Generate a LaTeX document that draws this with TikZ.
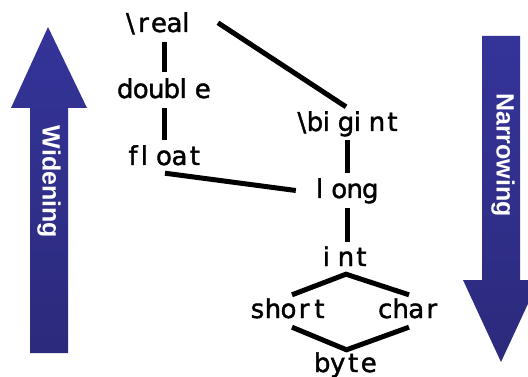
\documentclass[tikz,border=0pt]{standalone}
\usepackage{fontspec}
\setmainfont{DejaVu Sans}
\newfontfamily\typefont[FakeBold=1.5]{DejaVu Sans}
\newfontfamily\arrowfont{Liberation Sans}
\definecolor{arrowtop}{RGB}{52,52,153}
\definecolor{arrowbot}{RGB}{44,42,124}
\makeatletter
\def\mt@i{i}\def\mt@l{l}\def\mt@bs{\textbackslash}
\newcommand\mtext[1]{\@tfor\mt@c:=#1\do{%
  \ifx\mt@c\mt@i\makebox[15.5pt][l]{\mt@c}%
  \else\ifx\mt@c\mt@l\makebox[15.5pt][l]{\mt@c}%
  \else\ifx\mt@c\mt@bs\makebox[15.5pt][r]{\mt@c\kern1pt}%
  \else\makebox[15.5pt][c]{\mt@c}\fi\fi\fi}}
\makeatother
\tikzset{
  tname/.style={inner sep=0pt, anchor=base, text height=18pt, text depth=5pt,
    font=\typefont\fontsize{26}{30}\selectfont},
  link/.style={line width=5pt, black},
  bigarrow/.style={top color=arrowtop, bottom color=arrowbot, draw=none},
  arrowlabel/.style={text=white, rotate=-90, inner sep=0pt,
    font=\arrowfont\bfseries\fontsize{25}{28}\selectfont},
}
\begin{document}
\begin{tikzpicture}[x=1pt,y=-1pt]
\clip (0,0) rectangle (528,377);
\fill[white] (0,0) rectangle (528,377);
% widening arrow
\path[bigarrow] (48,27) -- (87,108) -- (68,108) -- (68,353) -- (30,353) -- (30,108) -- (11,108) -- cycle;
\node[arrowlabel] (widen) at (49,182) {Widening};
% narrowing arrow
\path[bigarrow] (482,36) -- (520,36) -- (520,280) -- (539,280) -- (501,362) -- (463,280) -- (482,280) -- cycle;
\node[arrowlabel] (narrow) at (503,155) {Narrowing};
% type names
\node[tname] (real)   at (159,32)  {\mtext{\textbackslash real}};
\node[tname] (double) at (164,98)  {\mtext{double}};
\node[tname] (float)  at (164,165) {\mtext{float}};
\node[tname] (bigint) at (346,131) {\mtext{\textbackslash bigint}};
\node[tname] (long)   at (347,198) {\mtext{long}};
\node[tname] (int)    at (346,266) {\mtext{int}};
\node[tname] (short)  at (288.5,318) {\mtext{short}};
\node[tname] (char)   at (408.5,318) {\mtext{char}};
\node[tname] (byte)   at (345.5,372) {\mtext{byte}};
% connectors
\draw[link, shorten <=5pt, shorten >=8pt] (double.north |- real.south) -- (double.north);
\draw[link, shorten <=5pt, shorten >=7pt] (double.south) -- (float.north);
\draw[link] ([shift={(20,9)}]real.north east) -- ([shift={(0,-6)}]bigint.north);
\draw[link, shorten <=4pt, shorten >=7pt] (long.north |- bigint.south) -- (long.north);
\draw[link] ([shift={(1,3)}]float.south) -- ([shift={(-20,-1)}]long.west);
\draw[link, shorten <=5pt, shorten >=6pt] (long.south) -- (long.south |- int.north);
\draw[link] ([shift={(3.5,-5)}]short.north) -- ([shift={(0,3)}]int.south) -- ([shift={(0.5,-5)}]char.north);
\draw[link] ([shift={(3.5,4)}]short.south) -- ([shift={(1,-4)}]byte.north) -- ([shift={(0.5,4)}]char.south);
\end{tikzpicture}
\end{document}
